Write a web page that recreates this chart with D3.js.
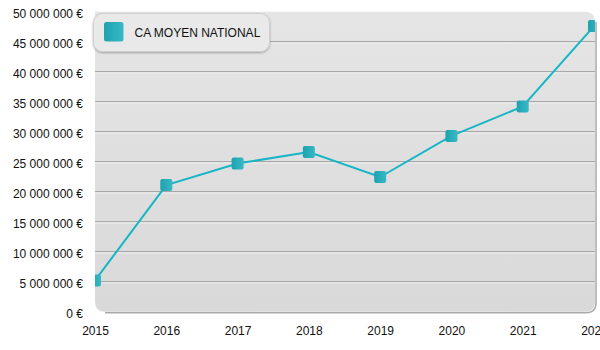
<!DOCTYPE html>
<html>
<head>
<meta charset="utf-8">
<script src="https://cdn.jsdelivr.net/npm/d3@7"></script>
<style>
  html, body { margin: 0; padding: 0; background: #fff; }
  svg { display: block; font-family: "Liberation Sans", Arial, sans-serif; }
</style>
</head>
<body>
<svg id="chart" width="600" height="350"></svg>
<script>
// Chiffre d'affaires moyen national par année
const years = ["2015", "2016", "2017", "2018", "2019", "2020", "2021", "2022"];
const caMoyen = [5200000, 21100000, 24700000, 26600000, 22450000, 29300000, 34200000, 47600000];
const yTicks = [0, 5000000, 10000000, 15000000, 20000000, 25000000, 30000000, 35000000, 40000000, 45000000, 50000000];
const seriesName = "CA MOYEN NATIONAL";

(function () {
const svg = d3.select("#chart");
const pL = 95, pR = 595, pT = 11.7, pB = 311.7;

const x = d3.scalePoint().domain(years).range([pL, 594]);
const y = d3.scaleLinear().domain([0, 50000000]).range([pB, pT]);

const fmt = v => (v === 0 ? "0" : d3.format(",")(v).replace(/,/g, "\u00a0")) + " \u20ac";

const defs = svg.append("defs");
const bg = defs.append("linearGradient").attr("id", "bg").attr("x1", 0).attr("y1", 0).attr("x2", 0).attr("y2", 1);
bg.append("stop").attr("offset", "0%").attr("stop-color", "#e5e5e5");
bg.append("stop").attr("offset", "100%").attr("stop-color", "#d9d9d9");
const mk = defs.append("linearGradient").attr("id", "mk").attr("x1", 0).attr("y1", 0).attr("x2", 1).attr("y2", 0);
mk.append("stop").attr("offset", "0%").attr("stop-color", "#1ea2b0");
mk.append("stop").attr("offset", "100%").attr("stop-color", "#38b8c4");
const sh = defs.append("filter").attr("id", "sh").attr("x", "-20%").attr("y", "-20%").attr("width", "140%").attr("height", "160%");
sh.append("feDropShadow").attr("dx", 0).attr("dy", 1).attr("stdDeviation", 1).attr("flood-color", "#000").attr("flood-opacity", 0.3);

// plot area: rounded corners except top-left
const r = 10;
const areaPath = `M${pL},${pT} H${pR - r} Q${pR},${pT} ${pR},${pT + r} V${pB - r} Q${pR},${pB} ${pR - r},${pB} H${pL + r} Q${pL},${pB} ${pL},${pB - r} Z`;
defs.append("clipPath").attr("id", "clip").append("path").attr("d", areaPath);

svg.append("path").attr("d", `M${pR + 1},${pT + r} V${pB - r + 1} Q${pR + 1},${pB + 1} ${pR - r + 1},${pB + 1} H${pL + r}`)
  .attr("fill", "none").attr("stroke", "#a9a9a9").attr("stroke-width", 1.5);
svg.append("path").attr("d", areaPath).attr("fill", "url(#bg)");

// grid lines
const grid = svg.append("g").attr("clip-path", "url(#clip)");
yTicks.filter(t => t > 0 && t < 50000000).forEach(t => {
  grid.append("line").attr("x1", pL).attr("x2", pR).attr("y1", y(t)).attr("y2", y(t))
    .attr("stroke", "#a8a8a8").attr("stroke-width", 1.2);
  grid.append("line").attr("x1", pL).attr("x2", pR).attr("y1", y(t) + 1.2).attr("y2", y(t) + 1.2)
    .attr("stroke", "#f2f2f2").attr("stroke-width", 1);
});

// axes
const yAxis = d3.axisLeft(y).tickValues(yTicks).tickFormat(fmt).tickSize(0).tickPadding(0);
svg.append("g").attr("transform", "translate(83,1.5)").call(yAxis)
  .call(g => g.select(".domain").remove())
  .call(g => g.selectAll("text").attr("font-size", 12).attr("fill", "#111").attr("font-family", "Liberation Sans, Arial, sans-serif"));

const xAxis = d3.axisBottom(x).tickSize(0).tickPadding(0);
svg.append("g").attr("transform", "translate(0,326)").call(xAxis)
  .call(g => g.select(".domain").remove())
  .call(g => g.selectAll("text").attr("font-size", 12).attr("fill", "#111").attr("font-family", "Liberation Sans, Arial, sans-serif"));

// series line + markers
const plot = svg.append("g").attr("clip-path", "url(#clip)");
const line = d3.line().x((d, i) => x(years[i])).y(d => y(d));
plot.append("path").datum(caMoyen).attr("d", line)
  .attr("fill", "none").attr("stroke", "#17b5c6").attr("stroke-width", 2);
const ms = 12;
plot.selectAll("rect.pt").data(caMoyen).join("rect").attr("class", "pt")
  .attr("x", (d, i) => x(years[i]) - ms / 2).attr("y", d => y(d) - ms / 2)
  .attr("width", ms).attr("height", ms).attr("rx", 2)
  .attr("fill", "url(#mk)");

// legend
const lg = svg.append("g");
lg.append("rect").attr("x", 93.5).attr("y", 13.5).attr("width", 176).attr("height", 38).attr("rx", 9)
  .attr("fill", "#e9e9e9").attr("stroke", "#cfcfcf").attr("filter", "url(#sh)");
lg.append("rect").attr("x", 104).attr("y", 22).attr("width", 19.5).attr("height", 19.5).attr("rx", 2.5)
  .attr("fill", "url(#mk)");
lg.append("text").attr("x", 134.5).attr("y", 36.5).attr("font-size", 12).attr("fill", "#111").text(seriesName);
})();
</script>
</body>
</html>
